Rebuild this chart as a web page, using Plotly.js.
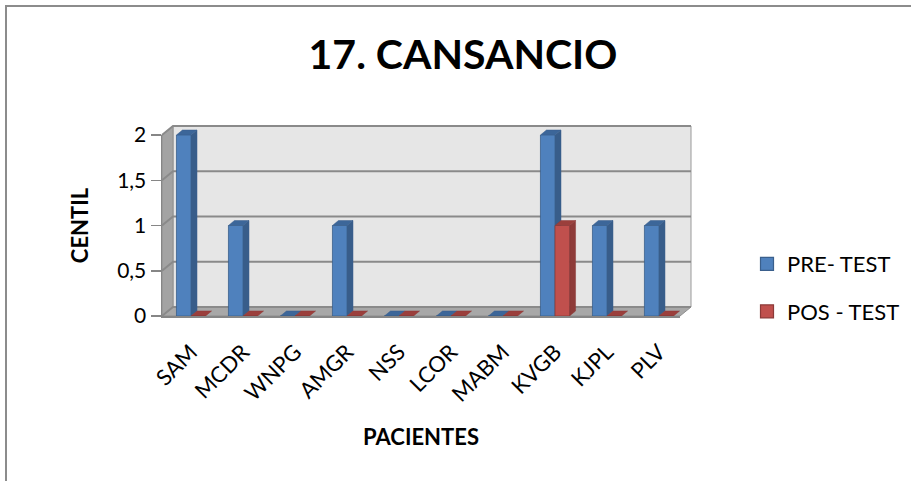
<!DOCTYPE html>
<html>
<head>
<meta charset="utf-8">
<script src="https://cdn.plot.ly/plotly-3.0.1.min.js"></script>
<style>
  html, body { margin: 0; padding: 0; background: #ffffff; }
  #chart { width: 911px; height: 481px; }
</style>
</head>
<body>
<div id="chart"></div>
<script>
// Patients and their scores before and after treatment
const pacientes = ['SAM', 'MCDR', 'WNPG', 'AMGR', 'NSS', 'LCOR', 'MABM', 'KVGB', 'KJPL', 'PLV'];
const preTest = [2, 1, 0, 1, 0, 0, 0, 2, 1, 1];
const posTest = [0, 0, 0, 0, 0, 0, 0, 1, 0, 0];
const yTicks = [0, 0.5, 1, 1.5, 2];
const yTickText = ['0', '0,5', '1', '1,5', '2'];
const seriesNames = ['PRE- TEST', 'POS - TEST'];

// Figure geometry
const FIG_W = 911, FIG_H = 481;
const M = { l: 162, r: 231, t: 135, b: 165, autoexpand: false };
const PW = FIG_W - M.l - M.r;
const PH = FIG_H - M.t - M.b;
const xRange = [-0.558, 9.404];
const yRange = [0, 2];
const BAR_W = 0.28;

// Colours
const BLUE = { front: '#4f81bd', side: '#385d8a', top: '#3c6699', line: '#3a5f8c' };
const RED = { front: '#c0504d', side: '#8e3b39', top: '#9b3f3c', line: '#8c3a38' };
const GRID = '#8a8a8a';

// Conversions to paper coordinates
const pxX = p => p / PW;                  // pixel length -> paper x
const pxY = p => p / PH;                  // pixel length -> paper y
const xp = x => (x - xRange[0]) / (xRange[1] - xRange[0]);
const yp = y => (y - yRange[0]) / (yRange[1] - yRange[0]);
const fromPixX = p => (p - M.l) / PW;
const fromPixY = p => (FIG_H - M.b - p) / PH;

// Depth of the box and of the bars, in pixels
const WALL_DX = 11, WALL_DY = 9, BAR_DX = 6, BAR_DY = 5;
const wdx = pxX(WALL_DX), wdy = pxY(WALL_DY);
const bdx = pxX(BAR_DX), bdy = pxY(BAR_DY);

const poly = pts => 'M' + pts.map(p => p[0] + ',' + p[1]).join(' L') + ' Z';

const shapes = [];
const paperShape = (path, fill, line, lw) => ({
  type: 'path', xref: 'paper', yref: 'paper', layer: 'below', path: path,
  fillcolor: fill, line: { color: line || 'rgba(0,0,0,0)', width: lw || 0 }
});

// Outer frame of the chart
shapes.push({
  type: 'path', xref: 'paper', yref: 'paper', layer: 'below',
  path: 'M' + fromPixX(6) + ',' + fromPixY(FIG_H + 5) + ' L' + fromPixX(6) + ',' + fromPixY(6) +
        ' L' + fromPixX(FIG_W + 5) + ',' + fromPixY(6),
  line: { color: '#8c8c8c', width: 2 }
});

// Back wall, left wall and floor
shapes.push(paperShape(poly([[wdx, wdy], [1 + wdx, wdy], [1 + wdx, 1 + wdy], [wdx, 1 + wdy]]), '#e6e6e6', '#9a9a9a', 1));
shapes.push(paperShape(poly([[0, 0], [0, 1], [wdx, 1 + wdy], [wdx, wdy]]), '#a3a3a3', '#8f8f8f', 1));
shapes.push(paperShape(poly([[0, 0], [1, 0], [1 + wdx, wdy], [wdx, wdy]]), '#a8a8a8', '#8f8f8f', 1));

// Gridlines on the back wall and their continuation on the left wall
yTicks.forEach(v => {
  const y = yp(v);
  shapes.push({
    type: 'path', xref: 'paper', yref: 'paper', layer: 'below',
    path: 'M0,' + y + ' L' + wdx + ',' + (y + wdy) + ' L' + (1 + wdx) + ',' + (y + wdy),
    line: { color: GRID, width: 2 }
  });
});

// Side and top faces that give the bars their depth
function addFaces(values, offset, col) {
  values.forEach((v, i) => {
    const x0 = xp(i + offset), x1 = xp(i + offset + BAR_W);
    const y0 = yp(0), yv = yp(v);
    if (v > 0) {
      shapes.push(paperShape(poly([[x1, y0], [x1, yv], [x1 + bdx, yv + bdy], [x1 + bdx, y0 + bdy]]), col.side, col.line, 0.5));
    }
    shapes.push(paperShape(poly([[x0, yv], [x1, yv], [x1 + bdx, yv + bdy], [x0 + bdx, yv + bdy]]), col.top, col.line, 0.5));
  });
}
addFaces(preTest, -BAR_W, BLUE);
addFaces(posTest, 0, RED);

const idx = pacientes.map((_, i) => i);
const FONT = 'Lato, "Open Sans", sans-serif';

const traces = [
  {
    type: 'bar', name: seriesNames[0], x: idx, y: preTest, width: BAR_W, offset: -BAR_W,
    marker: { color: BLUE.front, line: { color: BLUE.line, width: 0.8 } },
    showlegend: false, hoverinfo: 'skip'
  },
  {
    type: 'bar', name: seriesNames[1], x: idx, y: posTest, width: BAR_W, offset: 0,
    marker: { color: RED.front, line: { color: RED.line, width: 0.8 } },
    showlegend: false, hoverinfo: 'skip'
  },
  // legend keys with larger square swatches
  {
    type: 'scatter', mode: 'markers', name: seriesNames[0], x: [null], y: [null],
    marker: { symbol: 'square', size: 13, color: BLUE.front, line: { color: BLUE.line, width: 1.2 } },
    legendgroup: 'pre', hoverinfo: 'skip'
  },
  {
    type: 'scatter', mode: 'markers', name: seriesNames[1], x: [null], y: [null],
    marker: { symbol: 'square', size: 13, color: RED.front, line: { color: RED.line, width: 1.2 } },
    legendgroup: 'pos', hoverinfo: 'skip'
  }
];

const layout = {
  width: FIG_W, height: FIG_H,
  margin: M,
  paper_bgcolor: '#ffffff',
  plot_bgcolor: 'rgba(0,0,0,0)',
  font: { family: FONT, color: '#000000' },
  barmode: 'overlay',
  title: {
    text: '17. CANSANCIO',
    font: { family: FONT, size: 41, weight: 700, color: '#000000' },
    xref: 'container', yref: 'container',
    x: 463 / FIG_W, xanchor: 'center',
    y: 1 - 55 / FIG_H, yanchor: 'middle'
  },
  xaxis: {
    range: xRange,
    tickmode: 'array', tickvals: idx, ticktext: pacientes,
    tickangle: -45, ticks: '', ticklabelstandoff: 13,
    tickfont: { family: FONT, size: 22 },
    showgrid: false, zeroline: false,
    showline: true, linecolor: '#868686', linewidth: 1.5,
    title: { text: 'PACIENTES', font: { family: FONT, size: 22, weight: 700 }, standoff: 24 },
    fixedrange: true
  },
  yaxis: {
    range: yRange,
    tickmode: 'array', tickvals: yTicks, ticktext: yTickText,
    ticks: 'outside', ticklen: 10, tickcolor: '#868686', tickwidth: 1.5,
    tickfont: { family: FONT, size: 21 },
    showgrid: false, zeroline: false,
    showline: true, linecolor: '#868686', linewidth: 1.5,
    title: { text: 'CENTIL', font: { family: FONT, size: 22, weight: 700 }, standoff: 22 },
    fixedrange: true
  },
  legend: {
    x: fromPixX(747), xanchor: 'left',
    y: fromPixY(243), yanchor: 'top',
    font: { family: FONT, size: 22 },
    bgcolor: 'rgba(0,0,0,0)',
    itemwidth: 30,
    tracegroupgap: 16
  },
  shapes: shapes
};

Plotly.newPlot('chart', traces, layout, { staticPlot: true, displayModeBar: false });
</script>
</body>
</html>
